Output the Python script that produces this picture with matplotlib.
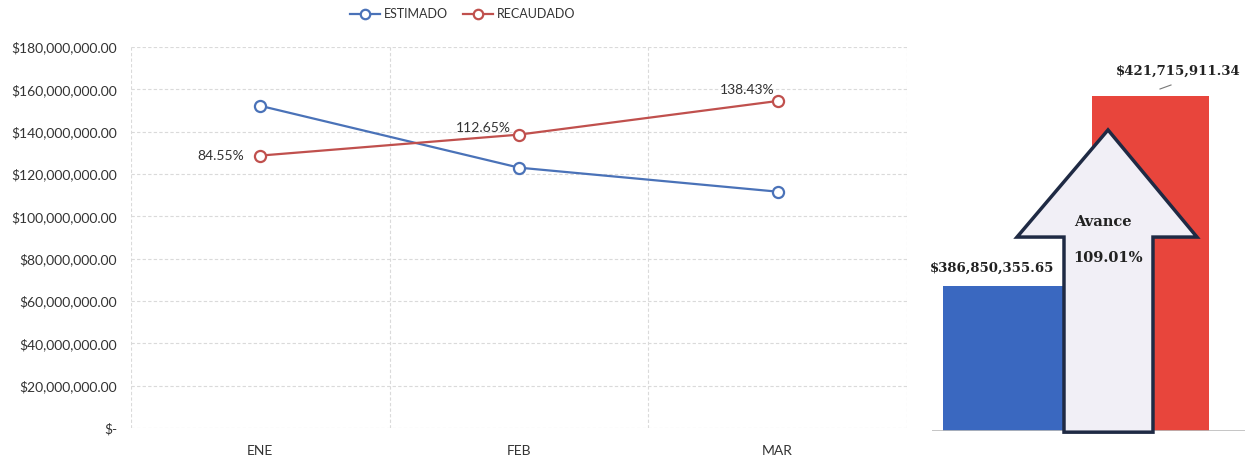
import matplotlib
matplotlib.use("Agg")
import matplotlib.pyplot as plt
from matplotlib.patches import Polygon
from matplotlib.lines import Line2D
from matplotlib.ticker import FuncFormatter

# datos mensuales
meses = ["ENE", "FEB", "MAR"]
estimado = [152.2e6, 123.0e6, 111.65e6]
recaudado = [128.7e6, 138.6e6, 154.5e6]
porcentajes = ["84.55%", "112.65%", "138.43%"]

# totales del trimestre
total_labels = ["ESTIMADO", "RECAUDADO"]
totales = [386850355.65, 421715911.34]
total_text = ["$386,850,355.65", "$421,715,911.34"]
avance = "109.01%"

AZUL = "#4a72b8"
ROJO = "#c0504d"

plt.rcParams['font.family'] = ['Lato', 'DejaVu Sans']

fig = plt.figure(figsize=(12.48, 4.61), dpi=100)

# grafica de lineas
ax = fig.add_axes([131 / 1248, 33 / 461, 776 / 1248, 381 / 461])
x = range(len(meses))
ax.plot(x, estimado, color=AZUL, lw=1.6, marker="o", ms=8, mfc="white",
        mec=AZUL, mew=1.6, label="ESTIMADO")
ax.plot(x, recaudado, color=ROJO, lw=1.6, marker="o", ms=8, mfc="white",
        mec=ROJO, mew=1.6, label="RECAUDADO")

ax.set_xlim(-0.5, 2.5)
ax.set_ylim(0, 180e6)
ax.set_yticks([i * 20e6 for i in range(10)])
ax.yaxis.set_major_formatter(FuncFormatter(
    lambda v, p: "$-" if v == 0 else "${:,.2f}".format(v)))
ax.set_xticks(list(x))
ax.set_xticklabels(meses)
ax.set_xticks([-0.5, 0.5, 1.5, 2.5], minor=True)
ax.tick_params(axis="both", which="both", length=0, labelsize=10, colors="#333333")
ax.tick_params(axis="x", pad=12)
ax.tick_params(axis="y", pad=10)
ax.grid(axis="y", which="major", color="#dadada", ls=(0, (3, 2)), lw=0.8)
ax.grid(axis="x", which="minor", color="#dadada", ls=(0, (3, 2)), lw=0.8)
for s in ax.spines.values():
    s.set_visible(False)

# etiquetas de porcentaje
ax.annotate(porcentajes[0], (0, recaudado[0]), xytext=(-12, 0),
            textcoords="offset points", ha="right", va="center",
            fontsize=10, color="#333333")
ax.annotate(porcentajes[1], (1, recaudado[1]), xytext=(-6, 5),
            textcoords="offset points", ha="right", va="center",
            fontsize=10, color="#333333")
ax.annotate(porcentajes[2], (2, recaudado[2]), xytext=(-22, 8),
            textcoords="offset points", ha="center", va="center",
            fontsize=10, color="#333333")

fig.legend(loc="center", bbox_to_anchor=(463 / 1248, 1 - 14 / 461), ncol=2,
           frameon=False, fontsize=9, handlelength=2.4, columnspacing=1.2,
           handletextpad=0.3, labelcolor="#333333", markerscale=0.85)

# grafica de totales
ax2 = fig.add_axes([932 / 1248, 30 / 461, 313 / 1248, 391 / 461])
base = 360.24e6
ppm = 335 / ((totales[1] - base) / 1e6)
ax2.set_ylim(base, base + 391 / ppm * 1e6)
ax2.set_xlim(0, 3.13)
pos = [0.71, 2.185]
anchos = [1.2, 1.17]
colores = ["#3a68c0", "#e8453c"]
ax2.bar(pos, [t - base for t in totales], bottom=base, width=anchos,
        color=colores)
ax2.axhline(base, color="#bbbbbb", lw=1.2)
ax2.axis("off")

ax2.annotate(total_text[0], (pos[0], totales[0]), xytext=(-8, 13),
             textcoords="offset points", ha="center", va="center",
             fontsize=9.5, fontweight="bold", family="DejaVu Serif",
             color="#222222")
ax2.annotate(total_text[1], (pos[1], totales[1]), xytext=(20, 18),
             textcoords="offset points", ha="center", va="center",
             fontsize=9.5, fontweight="bold", family="DejaVu Serif",
             color="#222222")
fig.add_artist(Line2D([1160 / 1248, 1171 / 1248], [1 - 89 / 461, 1 - 85 / 461],
                      color="#777777", lw=0.8))

# flecha de avance
flecha = Polygon([(0.4217, -0.003), (0.4217, 0.496), (0.2716, 0.496),
                  (0.5623, 0.770), (0.8466, 0.496), (0.706, 0.496),
                  (0.706, -0.003)], closed=True, transform=ax2.transAxes,
                 facecolor="#f1eff6", edgecolor="#1f2a44", lw=2.5,
                 clip_on=False, zorder=3)
ax2.add_patch(flecha)
ax2.text(0.546, 0.535, "Avance", transform=ax2.transAxes, ha="center",
         va="center", fontsize=10.5, fontweight="bold", family="DejaVu Serif",
         color="#222222", zorder=4)
ax2.text(0.562, 0.442, avance, transform=ax2.transAxes, ha="center",
         va="center", fontsize=10.5, fontweight="bold", family="DejaVu Serif",
         color="#222222", zorder=4)

fig.savefig("out.png", dpi=100)
